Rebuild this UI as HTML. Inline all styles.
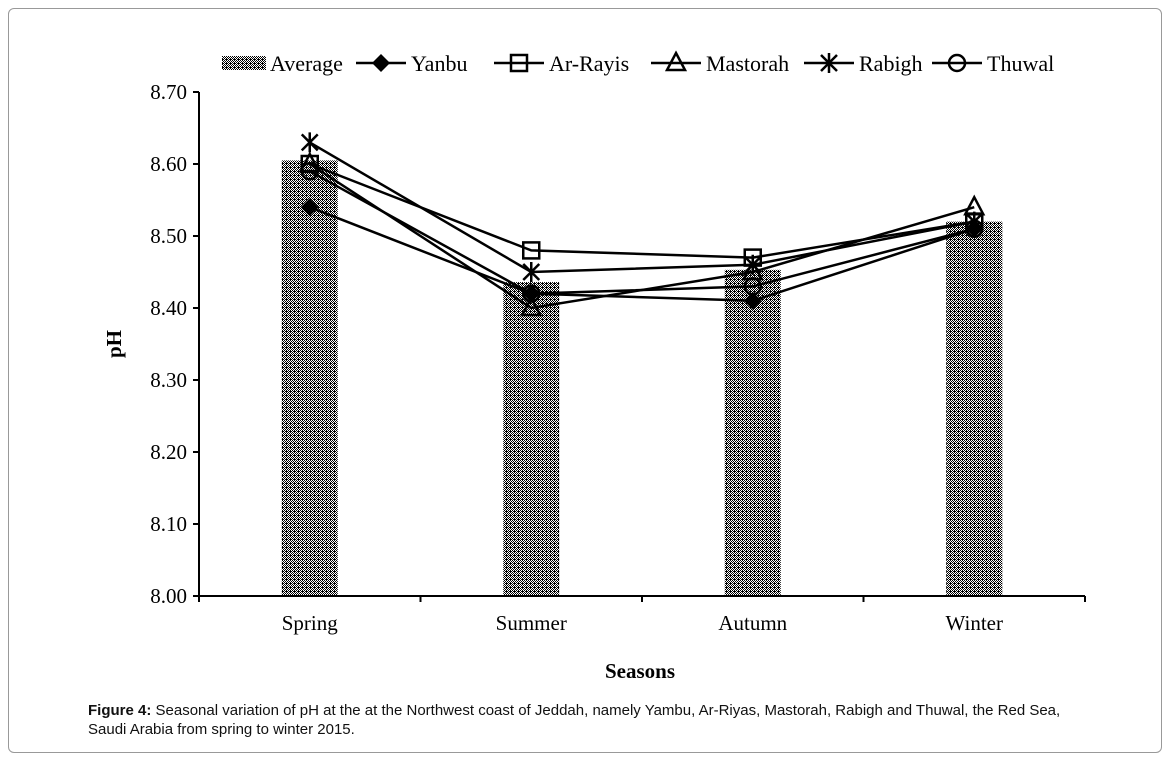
<!DOCTYPE html>
<html><head><meta charset="utf-8"><style>
body{margin:0;background:#fff;width:1169px;height:766px;overflow:hidden;font-family:"Liberation Serif",serif}
#frame{position:absolute;left:8px;top:8px;width:1152px;height:743px;border:1px solid #999;border-radius:6px}
#cap{position:absolute;left:88px;top:701px;font-family:"Liberation Sans",sans-serif;font-size:15px;line-height:19px;color:#111}
</style></head><body>
<div id="frame"></div>
<svg id="chart" width="1169" height="766" style="position:absolute;left:0;top:0">
<defs><pattern id="dith" width="4" height="4" patternUnits="userSpaceOnUse">
<rect width="4" height="4" fill="#000"/><rect x="1" y="0" width="1" height="1" fill="#fff"/><rect x="3" y="0" width="1" height="1" fill="#fff"/><rect x="0" y="1" width="1" height="1" fill="#fff"/><rect x="2" y="1" width="1" height="1" fill="#fff"/><rect x="1" y="2" width="1" height="1" fill="#fff"/><rect x="3" y="2" width="1" height="1" fill="#fff"/><rect x="0" y="3" width="1" height="1" fill="#fff"/>
</pattern></defs>
</svg>
<div id="cap"><b>Figure 4:</b> Seasonal variation of pH at the at the Northwest coast of Jeddah, namely Yambu, Ar-Riyas, Mastorah, Rabigh and Thuwal, the Red Sea,<br>Saudi Arabia from spring to winter 2015.</div>
<script>
const categories=["Spring","Summer","Autumn","Winter"];
const average=[8.605,8.436,8.453,8.52];
const yanbu=[8.54,8.42,8.41,8.51];
const arRayis=[8.60,8.48,8.47,8.52];
const mastorah=[8.60,8.40,8.45,8.54];
const rabigh=[8.63,8.45,8.46,8.52];
const thuwal=[8.59,8.42,8.43,8.51];
const yTicks=["8.00","8.10","8.20","8.30","8.40","8.50","8.60","8.70"];

const NS="http://www.w3.org/2000/svg";
const svg=document.getElementById('chart');
const X0=199,X1=1085,Y0=596,Y1=92,vmin=8.0,vmax=8.7;
const bw=(X1-X0)/categories.length;
const xs=i=>X0+bw*(i+0.5);
const ys=v=>Y0-(v-vmin)/(vmax-vmin)*(Y0-Y1);
function mk(t,a,p){const e=document.createElementNS(NS,t);for(const k in a)e.setAttribute(k,a[k]);(p||svg).appendChild(e);return e;}
function txt(x,y,s,a){const e=mk('text',Object.assign({x:x,y:y,'font-family':'Liberation Serif, serif','font-size':21,fill:'#000'},a||{}));e.textContent=s;return e;}

average.forEach((v,i)=>{const r=mk('rect',{x:xs(i)-28,y:ys(v),width:56,height:Y0-ys(v),fill:'url(#dith)'});

});
const ax=mk('path',{d:`M${X0} ${Y1}V${Y0}H${X1}`,stroke:'#000','stroke-width':2,fill:'none'});


yTicks.forEach(t=>{const y=ys(parseFloat(t));mk('line',{x1:X0-6,x2:X0,y1:y,y2:y,stroke:'#000','stroke-width':2});
const l=txt(X0-12,y+7,t,{'text-anchor':'end'});

});
for(let i=0;i<=categories.length;i++){const x=X0+bw*i;mk('line',{x1:x,x2:x,y1:Y0,y2:Y0+6,stroke:'#000','stroke-width':2});}
categories.forEach((c,i)=>{const l=txt(xs(i),630,c,{'text-anchor':'middle'});

});
const xt=txt(640,678,'Seasons',{'text-anchor':'middle','font-weight':'bold'});


const yt=txt(0,0,'pH',{'text-anchor':'middle','font-weight':'bold',transform:'translate(121,344) rotate(-90)'});



function marker(type,x,y,g){
 const s={stroke:'#000','stroke-width':2.5};
 if(type==='diamond')mk('path',{d:`M${x} ${y-9}L${x+9} ${y}L${x} ${y+9}L${x-9} ${y}Z`,fill:'#000'},g);
 if(type==='square')mk('rect',Object.assign({x:x-8,y:y-8,width:16,height:16,fill:'none'},s),g);
 if(type==='triangle')mk('path',Object.assign({d:`M${x} ${y-10}L${x+9} ${y+7}L${x-9} ${y+7}Z`,fill:'none'},s),g);
 if(type==='star')mk('path',Object.assign({d:`M${x-8} ${y-8}L${x+8} ${y+8}M${x+8} ${y-8}L${x-8} ${y+8}M${x} ${y-10}V${y+10}`,fill:'none'},s),g);
 if(type==='circle')mk('circle',Object.assign({cx:x,cy:y,r:8,fill:'none'},s),g);
}
const series=[["yanbu",yanbu,"diamond"],["ar-rayis",arRayis,"square"],["mastorah",mastorah,"triangle"],["rabigh",rabigh,"star"],["thuwal",thuwal,"circle"]];
series.forEach(([n,vals,m])=>{const g=mk('g',{});


mk('polyline',{points:vals.map((v,i)=>xs(i)+','+ys(v)).join(' '),fill:'none',stroke:'#000','stroke-width':2.5},g);
vals.forEach((v,i)=>marker(m,xs(i),ys(v),g));});

const leg=[["Average",null,222],["Yanbu","diamond",356],["Ar-Rayis","square",494],["Mastorah","triangle",651],["Rabigh","star",804],["Thuwal","circle",932]];
leg.forEach(([n,m,x])=>{const g=mk('g',{});


let tx;
if(!m){mk('rect',{x:x,y:56,width:44,height:14,fill:'url(#dith)'},g);tx=x+48;}
else{mk('line',{x1:x,x2:x+50,y1:63,y2:63,stroke:'#000','stroke-width':2.5},g);marker(m,x+25,63,g);tx=x+55;}
txt(tx,71,n,{'font-size':22},g);});
</script>
</body></html>
